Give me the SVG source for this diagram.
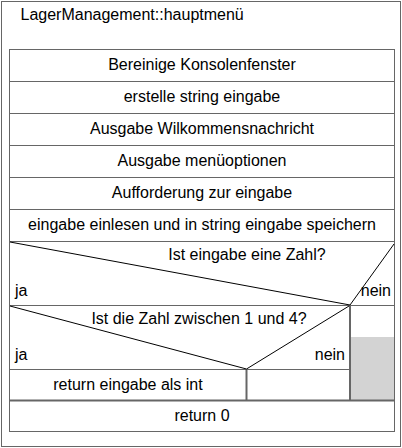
<svg xmlns="http://www.w3.org/2000/svg" width="402" height="448" viewBox="0 0 402 448">
  <style>
    .box { fill: #ffffff; stroke: #666666; stroke-width: 1; }
    .thick { fill: none; stroke: #666666; stroke-width: 2; }
    .diag { fill: none; stroke: #000000; stroke-width: 1; }
    .shade { fill: #d3d3d3; stroke: none; }
    text { font-family: "Liberation Sans", Arial, sans-serif; font-size: 16px; fill: #000000; }
    .c { text-anchor: middle; }
    .r { text-anchor: end; }
  </style>

  <!-- outer frame and title -->
  <g id="frame">
    <rect x="1.5" y="1.5" width="399" height="445" fill="#ffffff" stroke="#666666" stroke-width="1"/>
    <text x="20.5" y="19.5">LagerManagement::hauptmenü</text>
  </g>

  <!-- sequence of statements -->
  <g id="s1"><rect class="box" x="9.5" y="49.5" width="385" height="32"/><text class="c" x="202" y="70">Bereinige Konsolenfenster</text></g>
  <g id="s2"><rect class="box" x="9.5" y="81.5" width="385" height="32"/><text class="c" x="202" y="102">erstelle string eingabe</text></g>
  <g id="s3"><rect class="box" x="9.5" y="113.5" width="385" height="32"/><text class="c" x="202" y="134">Ausgabe Wilkommensnachricht</text></g>
  <g id="s4"><rect class="box" x="9.5" y="145.5" width="385" height="32"/><text class="c" x="202" y="166">Ausgabe menüoptionen</text></g>
  <g id="s5"><rect class="box" x="9.5" y="177.5" width="385" height="32"/><text class="c" x="202" y="198">Aufforderung zur eingabe</text></g>
  <g id="s6"><rect class="box" x="9.5" y="209.5" width="385" height="32"/><text class="c" x="202" y="230">eingabe einlesen und in string eingabe speichern</text></g>

  <!-- first decision -->
  <g id="if1">
    <rect class="box" x="9.5" y="241.5" width="385" height="64"/>
    <text class="c" x="247" y="260">Ist eingabe eine Zahl?</text>
    <text x="15" y="296">ja</text>
    <text class="r" x="391" y="296">nein</text>
  </g>

  <!-- second decision (ja branch) -->
  <g id="if2">
    <rect class="box" x="9.5" y="305.5" width="340" height="64"/>
    <text class="c" x="199" y="324">Ist die Zahl zwischen 1 und 4?</text>
    <text x="15" y="360">ja</text>
    <text class="r" x="345" y="360">nein</text>
  </g>
  <g id="ret1"><rect class="box" x="9.5" y="369.5" width="237" height="31"/><text class="c" x="128" y="389.5">return eingabe als int</text></g>
  <g id="empty2"><rect class="box" x="246.5" y="369.5" width="103" height="31"/></g>

  <!-- nein branch of first decision -->
  <g id="empty1">
    <rect class="box" x="349.5" y="305.5" width="45" height="95"/>
    <rect class="shade" x="351" y="337" width="43" height="63"/>
  </g>

  <g id="ret0"><rect class="box" x="9.5" y="400.5" width="385" height="31"/><text class="c" x="202" y="421">return 0</text></g>

  <!-- branch separators and decision diagonals -->
  <g id="connectors">
    <line class="thick" x1="350" y1="305" x2="350" y2="401"/>
    <line class="thick" x1="246.5" y1="369" x2="246.5" y2="401"/>
    <line class="thick" x1="9.5" y1="400.5" x2="394.5" y2="400.5"/>
    <line class="diag" x1="10" y1="242" x2="350" y2="305"/>
    <line class="diag" x1="350" y1="305" x2="394" y2="244"/>
    <line class="diag" x1="10" y1="306" x2="246.5" y2="369"/>
    <line class="diag" x1="246.5" y1="369" x2="349" y2="306"/>
  </g>
</svg>
